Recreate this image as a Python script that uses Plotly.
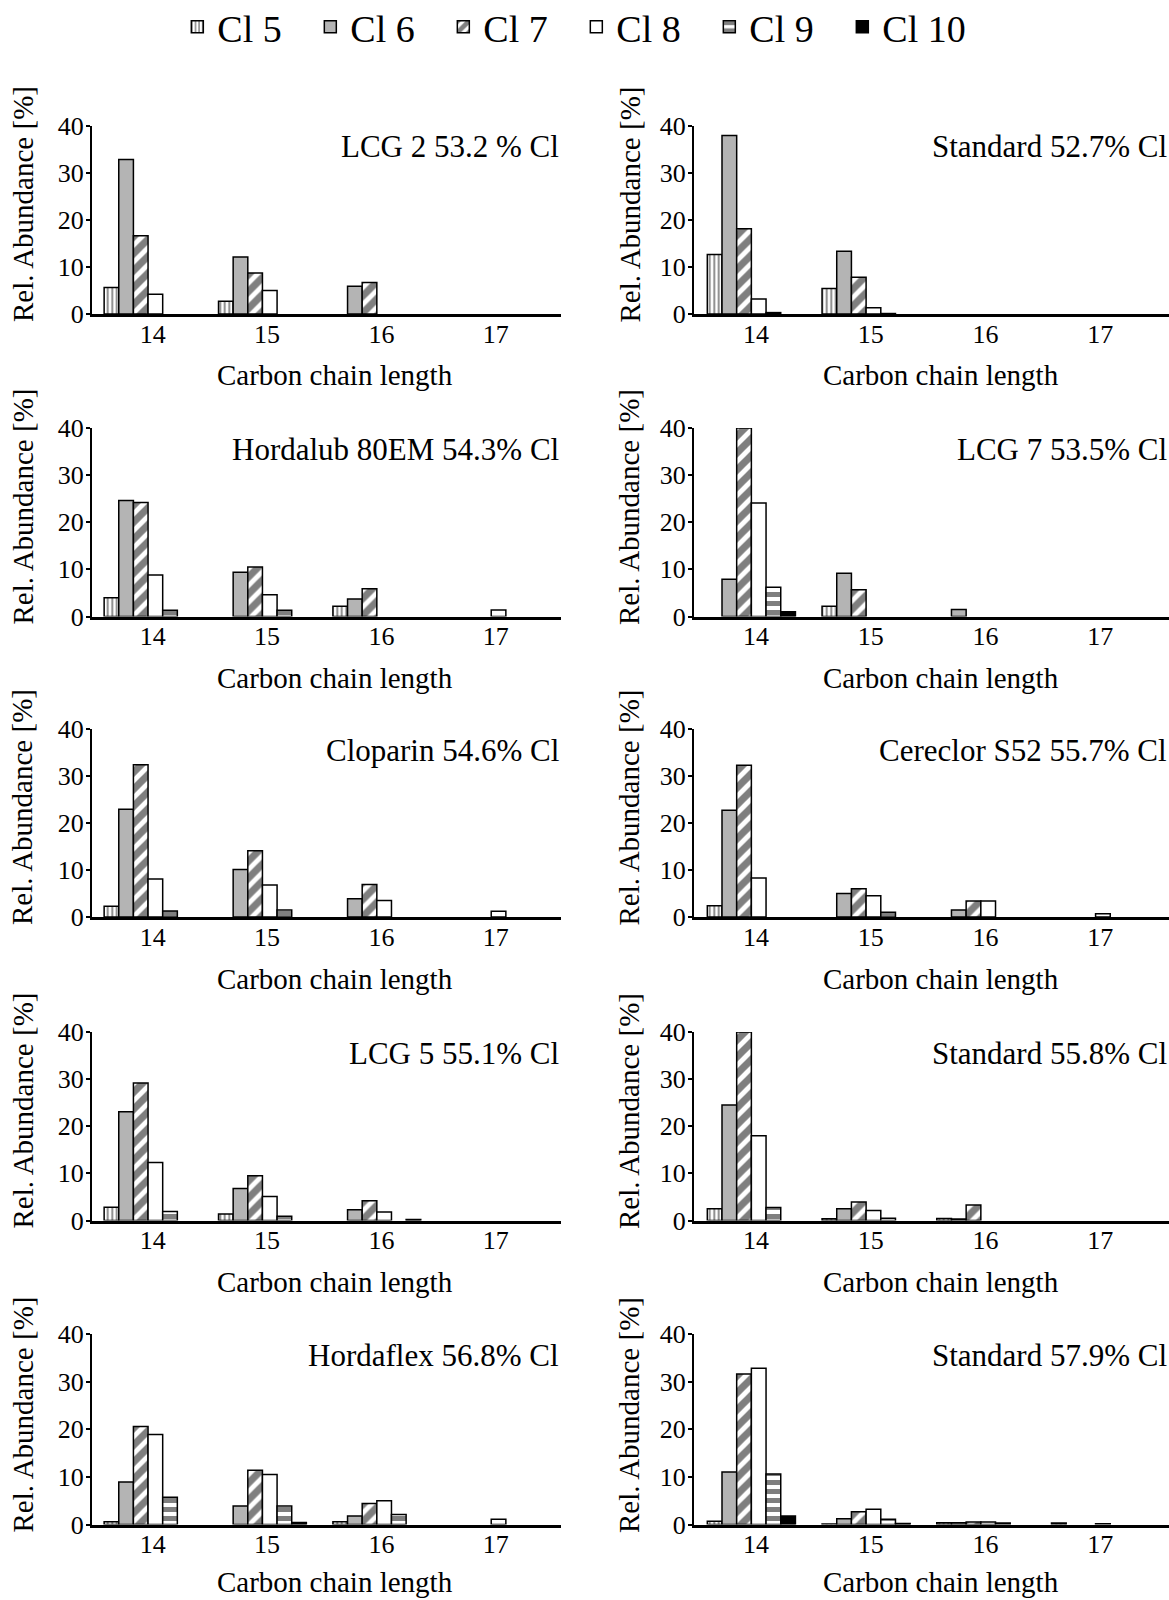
import plotly.graph_objects as go

# ---------------- data ----------------
chain_lengths = [14, 15, 16, 17]
series_names = ["Cl 5", "Cl 6", "Cl 7", "Cl 8", "Cl 9", "Cl 10"]
y_ticks = [0, 10, 20, 30, 40]

# rows: Cl5..Cl10 ; columns: C14..C17
lcg2_532 = [[5.6, 2.7, 0, 0], [32.8, 12.1, 5.9, 0], [16.6, 8.7, 6.7, 0],
            [4.2, 5.0, 0, 0], [0, 0, 0, 0], [0, 0, 0, 0]]
std_527 = [[12.6, 5.4, 0, 0], [37.9, 13.3, 0, 0], [18.1, 7.8, 0, 0],
           [3.2, 1.3, 0, 0], [0.3, 0.1, 0, 0], [0, 0, 0, 0]]
hordalub_543 = [[4.0, 0, 2.2, 0], [24.6, 9.4, 3.7, 0], [24.2, 10.5, 5.9, 0],
                [8.8, 4.6, 0, 1.4], [1.3, 1.3, 0, 0], [0, 0, 0, 0]]
lcg7_535 = [[0, 2.2, 0, 0], [7.9, 9.2, 1.5, 0], [40.0, 5.7, 0, 0],
            [24.1, 0, 0, 0], [6.2, 0, 0, 0], [1.0, 0, 0, 0]]
cloparin_546 = [[2.3, 0, 0, 0], [22.9, 10.1, 3.9, 0], [32.4, 14.1, 6.9, 0],
                [8.1, 6.8, 3.5, 1.2], [1.3, 1.5, 0, 0], [0, 0, 0, 0]]
cereclor_557 = [[2.4, 0, 0, 0], [22.7, 5.0, 1.5, 0], [32.3, 6.0, 3.4, 0],
                [8.3, 4.5, 3.4, 0.7], [0, 1.0, 0, 0], [0, 0, 0, 0]]
lcg5_551 = [[2.8, 1.4, 0, 0], [23.1, 6.8, 2.3, 0], [29.2, 9.5, 4.2, 0],
            [12.3, 5.1, 1.8, 0], [1.9, 0.9, 0, 0], [0, 0, 0.2, 0]]
std_558 = [[2.5, 0.35, 0.4, 0], [24.5, 2.5, 0.3, 0], [40.0, 3.9, 3.3, 0],
           [18.0, 2.1, 0, 0], [2.75, 0.5, 0, 0], [0, 0, 0, 0]]
hordaflex_568 = [[0.6, 0, 0.6, 0], [8.9, 3.9, 1.8, 0], [20.6, 11.4, 4.4, 0],
                 [18.9, 10.5, 5.0, 1.1], [5.7, 3.9, 2.1, 0], [0, 0.4, 0, 0]]
std_579 = [[0.7, 0.1, 0.35, 0.3], [11.0, 1.2, 0.35, 0], [31.6, 2.7, 0.5, 0],
           [32.8, 3.2, 0.55, 0.15], [10.6, 1.1, 0.3, 0], [1.8, 0.2, 0, 0]]

panel_titles = ["LCG 2 53.2 % Cl", "Standard 52.7% Cl",
                "Hordalub 80EM 54.3% Cl", "LCG 7 53.5% Cl",
                "Cloparin 54.6% Cl", "Cereclor S52 55.7% Cl",
                "LCG 5 55.1% Cl", "Standard 55.8% Cl",
                "Hordaflex 56.8% Cl", "Standard 57.9% Cl"]
panel_data = [lcg2_532, std_527, hordalub_543, lcg7_535, cloparin_546,
              cereclor_557, lcg5_551, std_558, hordaflex_568, std_579]

# ---------------- style / layout ----------------
W, H = 1169, 1600
FONT = "Liberation Serif"
GRAY = "#b4b4b4"

styles = [
    dict(color="white", pattern=dict(shape="|", fgcolor="black", bgcolor="white", size=4.5, solidity=0.4)),
    dict(color=GRAY),
    dict(color="white", pattern=dict(shape="/", fgcolor="black", bgcolor="white", size=12, solidity=0.6)),
    dict(color="white"),
    dict(color="white", pattern=dict(shape="-", fgcolor="black", bgcolor="white", size=9, solidity=0.55)),
    dict(color="black"),
]

BAR_W = 0.128
GROUP_SHIFT = -0.04

col_x = [(92, 561), (694, 1169)]
col_range = [[13.47, 17.57], [13.46, 17.6]]
row_top = [125.5, 428, 729, 1032, 1334]
row_bot = [314, 616.5, 917, 1220.5, 1524.5]
xtitle_off = [61.5, 61.5, 61.5, 61.5, 57.5]
ytitle_x = [22.5, 629]
xtitle_x = [334.5, 940.5]

fig = go.Figure()
annotations = []
layout_axes = {}

for i, (title, data) in enumerate(zip(panel_titles, panel_data)):
    r, c = divmod(i, 2)
    n = i + 1
    xa = "x" if n == 1 else f"x{n}"
    ya = "y" if n == 1 else f"y{n}"
    for s, (name, vals) in enumerate(zip(series_names, data)):
        fig.add_trace(go.Bar(
            x=chain_lengths, y=[v if v > 0 else None for v in vals],
            name=name, xaxis=xa, yaxis=ya,
            width=BAR_W, offset=GROUP_SHIFT - 3 * BAR_W + s * BAR_W,
            marker=dict(**styles[s], line=dict(color="black", width=1.5)),
            legendgroup=name, showlegend=(i == 0),
        ))
    x0, x1 = col_x[c]
    layout_axes[f"xaxis{'' if n == 1 else n}"] = dict(
        domain=[x0 / W, x1 / W], range=col_range[c], anchor=ya,
        tickvals=chain_lengths, ticks="", showline=True, linewidth=2.5,
        linecolor="black", showgrid=False, zeroline=False,
        ticklabelstandoff=-5,
        tickfont=dict(family=FONT, size=26, color="black"),
    )
    layout_axes[f"yaxis{'' if n == 1 else n}"] = dict(
        domain=[1 - row_bot[r] / H, 1 - row_top[r] / H], range=[0, 40],
        anchor=xa, tickvals=y_ticks, ticks="outside", ticklen=4, tickwidth=2,
        tickcolor="black", showline=True, linewidth=2, linecolor="black",
        showgrid=False, zeroline=False, ticklabelstandoff=-3,
        tickfont=dict(family=FONT, size=26, color="black"),
    )
    # panel title
    annotations.append(dict(
        text=title, xref="paper", yref="paper", x=x1 / W, xanchor="right",
        y=1 - (row_top[r] + 21) / H, yanchor="middle", showarrow=False,
        font=dict(family=FONT, size=31, color="black"),
    ))
    # y title
    annotations.append(dict(
        text="Rel. Abundance [%]", xref="paper", yref="paper",
        x=ytitle_x[c] / W, xanchor="center",
        y=1 - (row_bot[r] - 109.5) / H, yanchor="middle", textangle=-90,
        showarrow=False, font=dict(family=FONT, size=29, color="black"),
    ))
    # x title
    annotations.append(dict(
        text="Carbon chain length", xref="paper", yref="paper",
        x=xtitle_x[c] / W, xanchor="center",
        y=1 - (row_bot[r] + xtitle_off[r]) / H, yanchor="middle",
        showarrow=False, font=dict(family=FONT, size=29, color="black"),
    ))

fig.update_layout(
    width=W, height=H, margin=dict(l=0, r=0, t=0, b=0, autoexpand=False),
    paper_bgcolor="white", plot_bgcolor="white",
    barmode="overlay",
    font=dict(family=FONT, color="black"),
    annotations=annotations,
    legend=dict(orientation="h", x=0.493, xanchor="center",
                y=1 - 27 / H, yanchor="middle",
                font=dict(family=FONT, size=38, color="black"),
                entrywidth=88, entrywidthmode="pixels", itemwidth=30,
                bgcolor="rgba(0,0,0,0)"),
    **layout_axes,
)

fig.write_html("out.html")
